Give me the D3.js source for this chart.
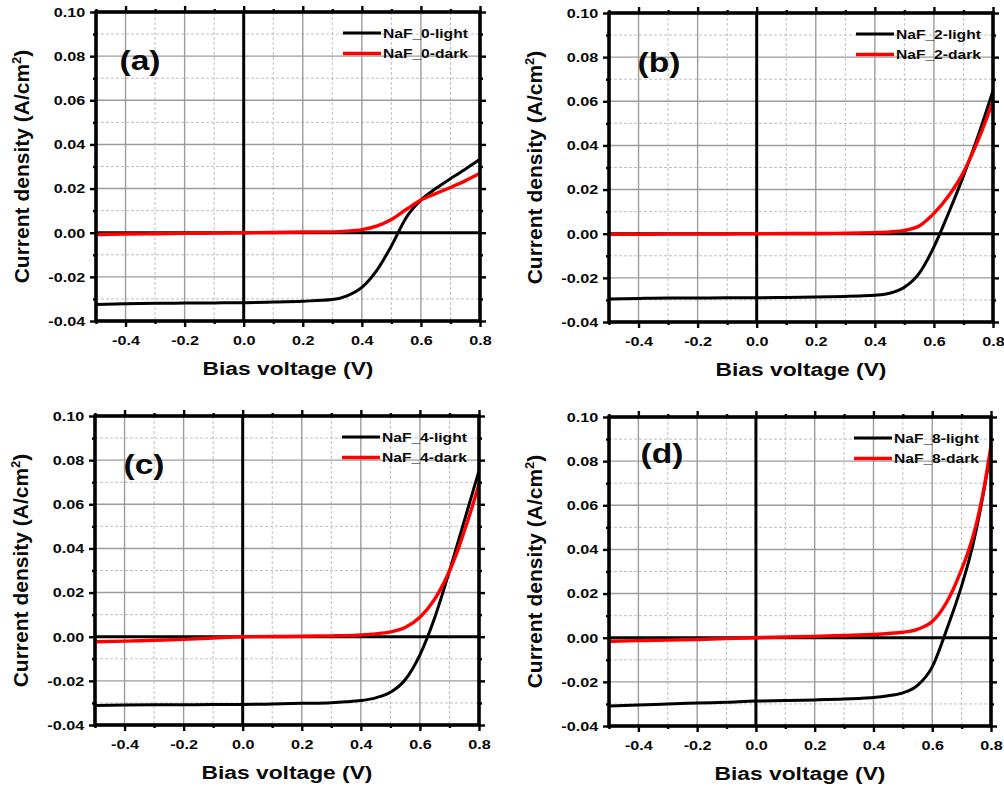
<!DOCTYPE html>
<html>
<head>
<meta charset="utf-8">
<script src="https://cdn.jsdelivr.net/npm/d3@7"></script>
<style>
  body { margin: 0; background: #fff; }
  text { font-family: "Liberation Sans", Arial, sans-serif; font-weight: bold; fill: #0a0a0a; }
</style>
</head>
<body>
<svg id="chart" width="1004" height="791"></svg>
<script>
// Bias voltage sweep (V), shared by every J-V curve
const biasVoltage = [-0.5, -0.4, -0.3, -0.2, -0.1, 0, 0.1, 0.2, 0.3, 0.35, 0.4, 0.45, 0.5, 0.55, 0.6, 0.65, 0.7, 0.725, 0.75, 0.775, 0.8];

// Current density (A/cm^2) under illumination and in the dark
const lightNaF0 = [-0.0325, -0.0322, -0.0320, -0.0319, -0.0318, -0.0317, -0.0314, -0.0310, -0.0303, -0.0286, -0.0248, -0.0172, -0.0060, 0.0068, 0.0148, 0.0200, 0.0245, 0.0266, 0.0288, 0.0310, 0.0333];
const darkNaF0  = [-0.0008, -0.0006, -0.0005, -0.0003, -0.0002, 0, 0.0001, 0.0003, 0.0004, 0.0007, 0.0014, 0.0030, 0.0060, 0.0105, 0.0148, 0.0177, 0.0205, 0.0220, 0.0235, 0.0252, 0.0270];

const lightNaF2 = [-0.0296, -0.0293, -0.0291, -0.0291, -0.0290, -0.0290, -0.0289, -0.0287, -0.0284, -0.0282, -0.0279, -0.0270, -0.0243, -0.0180, -0.0060, 0.0095, 0.0262, 0.0352, 0.0445, 0.0545, 0.0648];
const darkNaF2  = [-0.0003, -0.0003, -0.0002, -0.0002, -0.0001, 0, 0.0001, 0.0001, 0.0002, 0.0003, 0.0005, 0.0008, 0.0015, 0.0035, 0.0092, 0.0172, 0.0278, 0.0348, 0.0425, 0.0510, 0.0605];

const lightNaF4 = [-0.0312, -0.0309, -0.0308, -0.0308, -0.0307, -0.0307, -0.0305, -0.0302, -0.0299, -0.0295, -0.0289, -0.0277, -0.0252, -0.0195, -0.0082, 0.0086, 0.0298, 0.0410, 0.0524, 0.0638, 0.0752];
const darkNaF4  = [-0.0023, -0.0020, -0.0016, -0.0012, -0.0006, 0, 0.0001, 0.0002, 0.0004, 0.0005, 0.0008, 0.0013, 0.0022, 0.0042, 0.0088, 0.0170, 0.0298, 0.0380, 0.0478, 0.0580, 0.0690];

const lightNaF8 = [-0.0309, -0.0305, -0.0300, -0.0296, -0.0292, -0.0287, -0.0285, -0.0282, -0.0278, -0.0275, -0.0271, -0.0263, -0.0250, -0.0216, -0.0132, 0.0040, 0.0235, 0.0350, 0.0490, 0.0660, 0.0855];
const darkNaF8  = [-0.0016, -0.0013, -0.0011, -0.0008, -0.0004, 0, 0.0003, 0.0006, 0.0010, 0.0012, 0.0015, 0.0019, 0.0025, 0.0038, 0.0073, 0.0163, 0.0310, 0.0400, 0.0515, 0.0670, 0.0870];

const panelLetters = ["(a)", "(b)", "(c)", "(d)"];
const lightNames = ["NaF_0-light", "NaF_2-light", "NaF_4-light", "NaF_8-light"];
const darkNames  = ["NaF_0-dark", "NaF_2-dark", "NaF_4-dark", "NaF_8-dark"];
const lightSeries = [lightNaF0, lightNaF2, lightNaF4, lightNaF8];
const darkSeries  = [darkNaF0, darkNaF2, darkNaF4, darkNaF8];

const xMajorTicks = [-0.4, -0.2, 0.0, 0.2, 0.4, 0.6, 0.8];
const xMinorTicks = [-0.5, -0.3, -0.1, 0.1, 0.3, 0.5, 0.7];
const yMajorTicks = [-0.04, -0.02, 0.00, 0.02, 0.04, 0.06, 0.08, 0.10];
const yMinorTicks = [-0.03, -0.01, 0.01, 0.03, 0.05, 0.07, 0.09];

const xTitle = "Bias voltage (V)";

// Plot-area rectangles of the 2x2 grid, and the letter offsets
const frames = [
  { left: 96,  top: 12,  right: 480, bottom: 321, letterDx: 44, letterDy: 48 },
  { left: 609, top: 13,  right: 993, bottom: 322, letterDx: 50, letterDy: 49 },
  { left: 95,  top: 416, right: 479, bottom: 725, letterDx: 49, letterDy: 48 },
  { left: 609, top: 417, right: 991, bottom: 726, letterDx: 53, letterDy: 36 }
];

const SX = 1.2; // horizontal text stretch
const svg = d3.select("#chart");

frames.forEach((f, i) => {
  const w = f.right - f.left, h = f.bottom - f.top;
  const x = d3.scaleLinear().domain([-0.5, 0.8]).range([0, w]);
  const y = d3.scaleLinear().domain([-0.04, 0.10]).range([h, 0]);
  const g = svg.append("g").attr("transform", `translate(${f.left},${f.top})`);

  // minor grid (dotted)
  g.append("g").selectAll("line").data(xMinorTicks.filter(v => v > -0.5)).join("line")
    .attr("x1", d => x(d)).attr("x2", d => x(d)).attr("y1", 0).attr("y2", h)
    .attr("stroke", "#c0c0c0").attr("stroke-width", 1).attr("stroke-dasharray", "3,2");
  g.append("g").selectAll("line").data(yMinorTicks).join("line")
    .attr("x1", 0).attr("x2", w).attr("y1", d => y(d)).attr("y2", d => y(d))
    .attr("stroke", "#c0c0c0").attr("stroke-width", 1).attr("stroke-dasharray", "3,2");
  // major grid (solid)
  g.append("g").selectAll("line").data(xMajorTicks.filter(v => v < 0.8)).join("line")
    .attr("x1", d => x(d)).attr("x2", d => x(d)).attr("y1", 0).attr("y2", h)
    .attr("stroke", "#9c9c9c").attr("stroke-width", 1.4);
  g.append("g").selectAll("line").data(yMajorTicks.filter(v => v > -0.04 && v < 0.10)).join("line")
    .attr("x1", 0).attr("x2", w).attr("y1", d => y(d)).attr("y2", d => y(d))
    .attr("stroke", "#9c9c9c").attr("stroke-width", 1.4);

  // zero lines
  g.append("line").attr("x1", 0).attr("x2", w).attr("y1", y(0)).attr("y2", y(0))
    .attr("stroke", "#000").attr("stroke-width", 3);
  g.append("line").attr("x1", x(0)).attr("x2", x(0)).attr("y1", 0).attr("y2", h)
    .attr("stroke", "#000").attr("stroke-width", 3);

  // curves
  const line = d3.line().x((d, k) => x(biasVoltage[k])).y(d => y(d)).curve(d3.curveMonotoneX);
  g.append("path").datum(lightSeries[i]).attr("d", line)
    .attr("fill", "none").attr("stroke", "#000").attr("stroke-width", 3).attr("stroke-linejoin", "round");
  g.append("path").datum(darkSeries[i]).attr("d", line)
    .attr("fill", "none").attr("stroke", "#ff0000").attr("stroke-width", 3.4).attr("stroke-linejoin", "round");

  // frame
  g.append("rect").attr("width", w).attr("height", h)
    .attr("fill", "none").attr("stroke", "#000").attr("stroke-width", 3.6);

  // axes: major ticks with labels, minor ticks, mirrored on top/right
  const styleAxis = sel => { sel.select(".domain").remove(); sel.selectAll(".tick line").attr("stroke", "#000").attr("stroke-width", 2.4); };
  const fmtX = d => d.toFixed(1);
  const fmtY = d => d.toFixed(2);

  const bottom = g.append("g").attr("transform", `translate(0,${h})`)
    .call(d3.axisBottom(x).tickValues(xMajorTicks).tickFormat(fmtX).tickSize(6).tickPadding(8));
  styleAxis(bottom);
  bottom.selectAll(".tick text").attr("font-size", 13.5).attr("fill", "#0a0a0a")
    .attr("font-family", null).attr("transform", `scale(${SX},1)`);
  styleAxis(g.append("g").attr("transform", `translate(0,${h})`)
    .call(d3.axisBottom(x).tickValues(xMinorTicks).tickFormat("").tickSize(3)));

  const left = g.append("g")
    .call(d3.axisLeft(y).tickValues(yMajorTicks).tickFormat(fmtY).tickSize(6).tickPadding(3));
  styleAxis(left);
  left.selectAll(".tick text").attr("font-size", 13.5).attr("fill", "#0a0a0a")
    .attr("font-family", null).attr("transform", `scale(${SX},1)`);
  styleAxis(g.append("g").call(d3.axisLeft(y).tickValues(yMinorTicks).tickFormat("").tickSize(3)));

  styleAxis(g.append("g").call(d3.axisTop(x).tickValues(xMajorTicks).tickFormat("").tickSize(6)));
  styleAxis(g.append("g").call(d3.axisTop(x).tickValues(xMinorTicks).tickFormat("").tickSize(3)));
  styleAxis(g.append("g").attr("transform", `translate(${w},0)`)
    .call(d3.axisRight(y).tickValues(yMajorTicks).tickFormat("").tickSize(6)));
  styleAxis(g.append("g").attr("transform", `translate(${w},0)`)
    .call(d3.axisRight(y).tickValues(yMinorTicks).tickFormat("").tickSize(3)));

  // axis titles
  g.append("text").attr("transform", `translate(${w / 2},${h + 54}) scale(${SX},1)`)
    .attr("text-anchor", "middle").attr("font-size", 19).text(xTitle);
  const yt = g.append("text").attr("transform", `translate(-67,${h / 2}) rotate(-90)`)
    .attr("text-anchor", "middle").attr("font-size", 21);
  yt.append("tspan").text("Current density (A/cm");
  yt.append("tspan").attr("font-size", 13).attr("dy", -8).text("2");
  yt.append("tspan").attr("dy", 8).text(")");

  // panel letter
  g.append("text").attr("transform", `translate(${f.letterDx},${f.letterDy + 10}) scale(${SX},1)`)
    .attr("text-anchor", "middle").attr("font-size", 28).text(panelLetters[i]);

  // legend
  const legend = g.append("g").attr("transform", `translate(${w - 137},21)`);
  [[lightNames[i], "#000", 3], [darkNames[i], "#ff0000", 3.4]].forEach(([name, color, sw], k) => {
    legend.append("line").attr("x1", 0).attr("x2", 38).attr("y1", k * 20.5).attr("y2", k * 20.5)
      .attr("stroke", color).attr("stroke-width", sw);
    legend.append("text").attr("transform", `translate(40,${k * 20.5 + 4.5}) scale(${SX},1)`)
      .attr("font-size", 13).text(name);
  });
});
</script>
</body>
</html>
